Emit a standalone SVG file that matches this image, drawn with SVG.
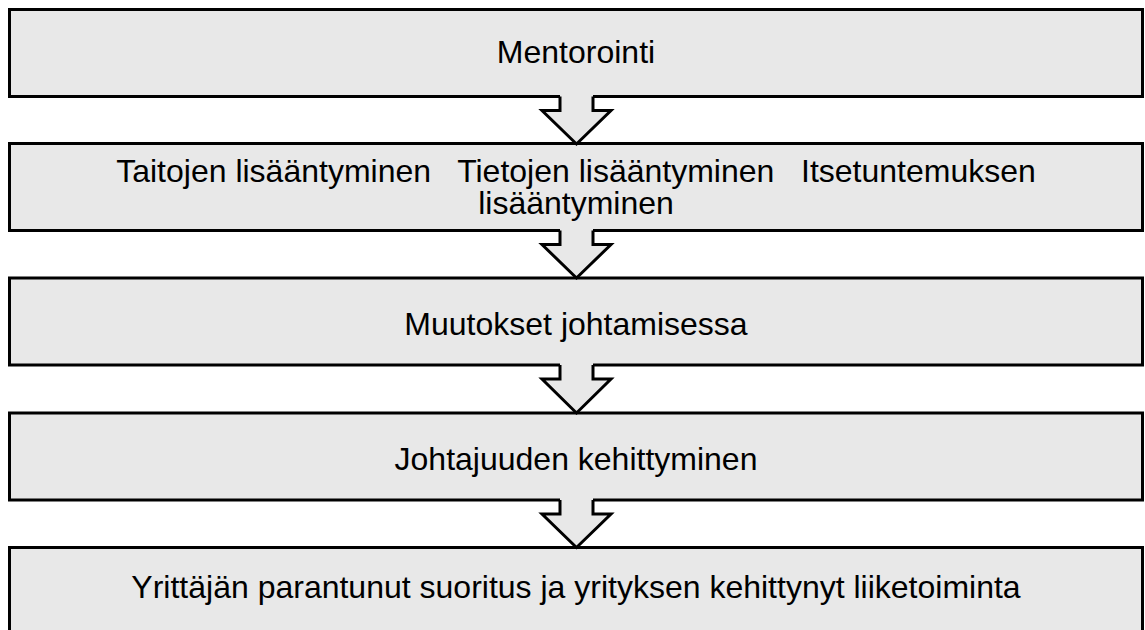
<svg xmlns="http://www.w3.org/2000/svg" width="1145" height="630" viewBox="0 0 1145 630">
  <style>
    .box { fill: #e8e8e8; stroke: #000; stroke-width: 3; }
    .lbl { font-family: "Liberation Sans", Arial, sans-serif; font-size: 32px; fill: #000; text-anchor: middle; white-space: pre; }
    .afill { fill: #e8e8e8; stroke: none; }
    .aline { fill: none; stroke: #000; stroke-width: 3; stroke-linejoin: miter; }
  </style>
  <rect width="1145" height="630" fill="#fff"/>

  <g id="node-mentorointi">
    <rect class="box" x="9.5" y="9.5" width="1133" height="87"/>
    <text class="lbl" x="576" y="62.5">Mentorointi</text>
  </g>

  <g id="node-lisaantyminen">
    <rect class="box" x="9.5" y="143.5" width="1133" height="87"/>
    <text class="lbl" x="576" y="181.5" xml:space="preserve">Taitojen lisääntyminen   Tietojen lisääntyminen   Itsetuntemuksen</text>
    <text class="lbl" x="576" y="214">lisääntyminen</text>
  </g>

  <g id="node-muutokset">
    <rect class="box" x="9.5" y="278" width="1133" height="87"/>
    <text class="lbl" x="576" y="335">Muutokset johtamisessa</text>
  </g>

  <g id="node-johtajuus">
    <rect class="box" x="9.5" y="413" width="1133" height="87"/>
    <text class="lbl" x="576" y="470">Johtajuuden kehittyminen</text>
  </g>

  <g id="node-suoritus">
    <rect class="box" x="9.5" y="547.5" width="1133" height="87"/>
    <text class="lbl" x="576" y="598">Yrittäjän parantunut suoritus ja yrityksen kehittynyt liiketoiminta</text>
  </g>

  <!-- block arrows between the stages; fill hides the box border under the shaft -->
  <g id="connectors">
    <g transform="translate(0,96.5)">
      <polygon class="afill" points="560,-2 560,14 542,14 576.5,47.5 611,14 593,14 593,-2"/>
      <polyline class="aline" points="560,0 560,14 542,14 576.5,47.5 611,14 593,14 593,0"/>
    </g>
    <g transform="translate(0,230.5)">
      <polygon class="afill" points="560,-2 560,14 542,14 576.5,47.5 611,14 593,14 593,-2"/>
      <polyline class="aline" points="560,0 560,14 542,14 576.5,47.5 611,14 593,14 593,0"/>
    </g>
    <g transform="translate(0,365)">
      <polygon class="afill" points="560,-2 560,14 542,14 576.5,48 611,14 593,14 593,-2"/>
      <polyline class="aline" points="560,0 560,14 542,14 576.5,48 611,14 593,14 593,0"/>
    </g>
    <g transform="translate(0,500)">
      <polygon class="afill" points="560,-2 560,14 542,14 576.5,47.5 611,14 593,14 593,-2"/>
      <polyline class="aline" points="560,0 560,14 542,14 576.5,47.5 611,14 593,14 593,0"/>
    </g>
  </g>
</svg>
